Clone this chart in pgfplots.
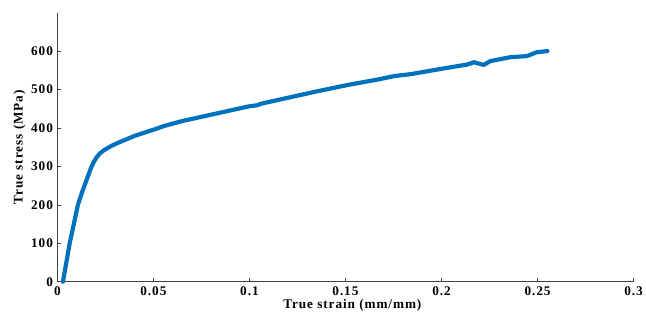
\documentclass[border=0pt]{standalone}
\usepackage{pgfplots}
\pgfplotsset{compat=1.18}
\usepackage{fontspec}
\setmainfont{Liberation Serif}
\newfontfamily\lsfont[LetterSpace=7]{Liberation Serif}
\definecolor{mblue}{rgb}{0,0.447,0.741}
\definecolor{axgray}{gray}{0.25}
\begin{document}
\begin{tikzpicture}
\path (-57.7pt,-41.7pt) rectangle (588.3pt,283.3pt);
\begin{axis}[
  at={(0,0)}, anchor=south west,
  scale only axis, width=579.3pt, height=270.6pt,
  xmin=0, xmax=0.3, ymin=0, ymax=700,
  axis x line*=bottom, axis y line*=left,
  axis line style={-, draw=axgray, line width=0.6pt},
  every tick/.style={draw=axgray, line width=0.6pt},
  tick align=inside, major tick length=4pt,
  xtick={0,0.05,0.1,0.15,0.2,0.25,0.3},
  xticklabels={0,0.05,0.1,0.15,0.2,0.25,0.3},
  ytick={0,100,200,300,400,500,600},
  yticklabels={0,100,200,300,400,500,600},
  tick label style={font=\lsfont\fontsize{13.3}{15}\selectfont\bfseries},
  label style={font=\lsfont\fontsize{13.3}{15}\selectfont\bfseries},
  xticklabel style={yshift=-1pt},
  yticklabel style={xshift=-1pt},
  xlabel={True strain (mm/mm)},
  ylabel={True stress (MPa)},
  xlabel style={xshift=7pt, yshift=3pt},
  ylabel style={yshift=-1pt},
  clip=false,
]
\addplot[mblue, line width=4.2pt, line join=round, line cap=round] coordinates {
(0.0029,0) (0.0064,100) (0.0107,200) (0.0128,232) (0.0150,262) (0.0175,296)
(0.0190,312) (0.0205,324) (0.0222,334) (0.0245,343) (0.0280,353) (0.0314,361)
(0.0400,379) (0.0478,392) (0.0504,396) (0.0555,405)
(0.0650,418) (0.0823,437) (0.0995,456) (0.1040,459) (0.1060,463) (0.1168,475)
(0.1340,494) (0.1513,512) (0.1668,526) (0.1755,535) (0.1840,540) (0.2013,555)
(0.2134,565) (0.2169,571) (0.2220,564) (0.2255,574) (0.2358,584) (0.2445,587)
(0.2496,597) (0.2552,600)
};
\end{axis}
\end{tikzpicture}
\end{document}
